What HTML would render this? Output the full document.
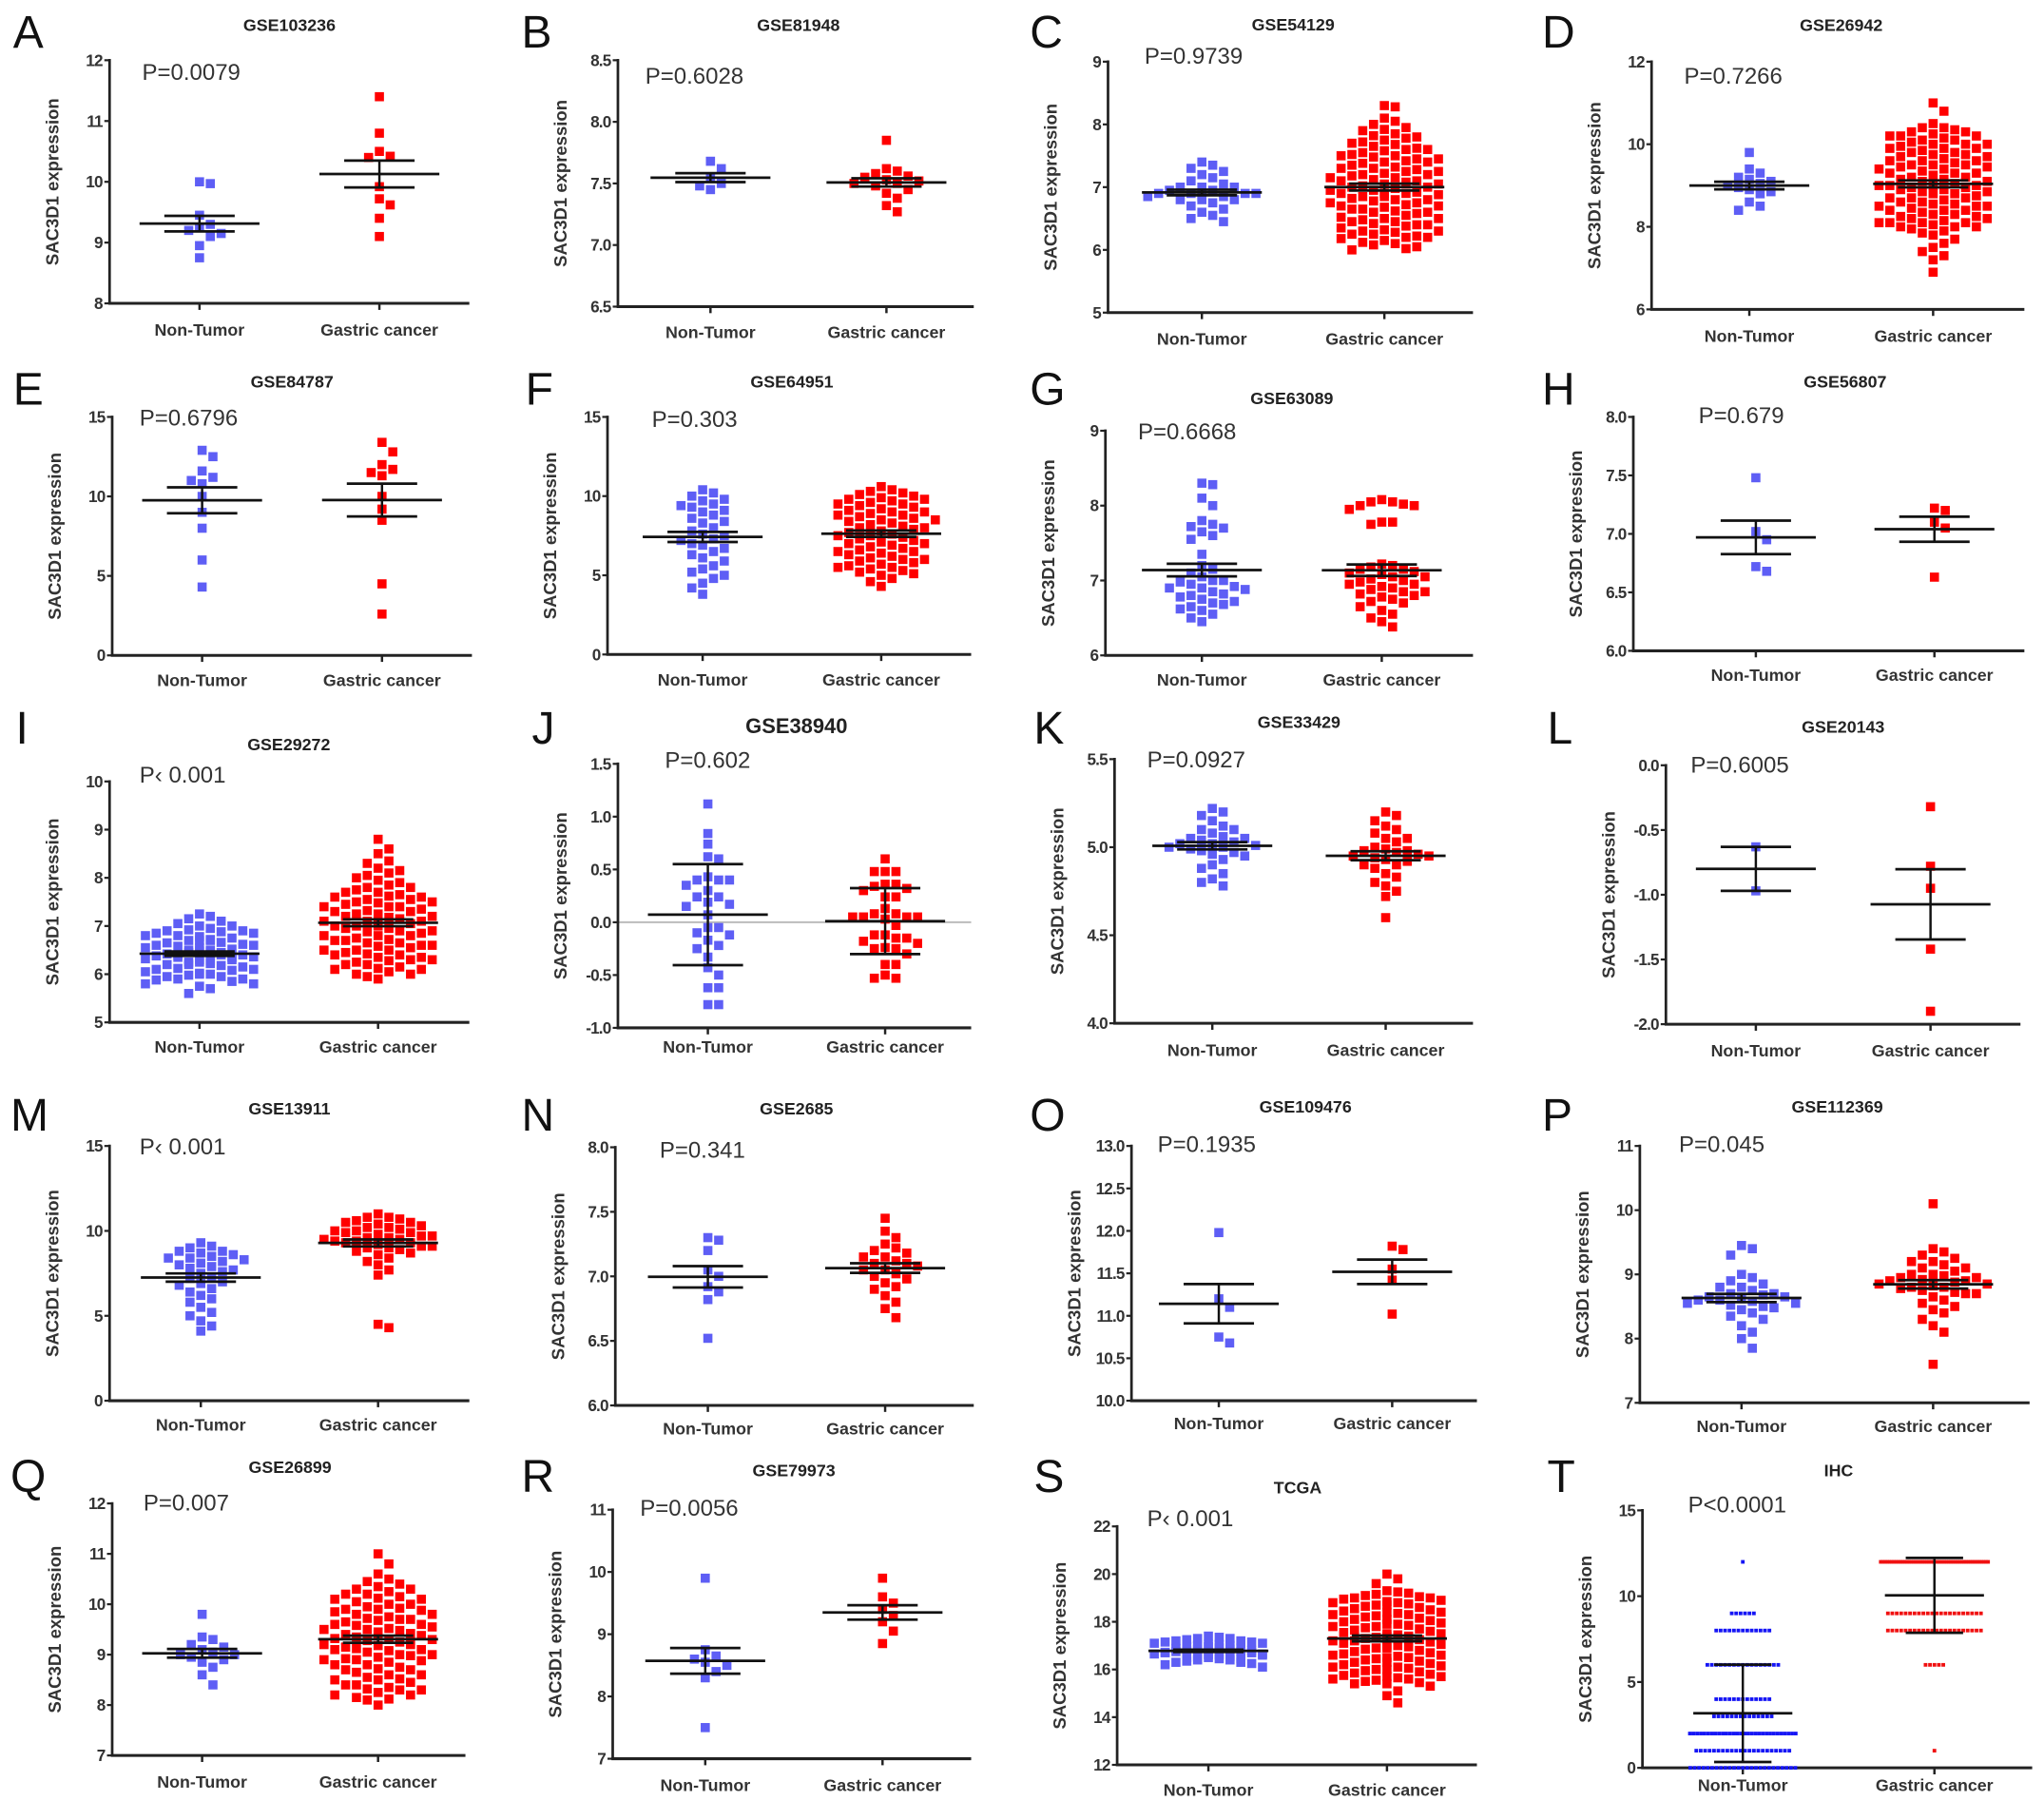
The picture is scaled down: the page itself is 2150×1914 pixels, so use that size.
<!DOCTYPE html>
<html><head><meta charset="utf-8">
<style>
html,body{margin:0;padding:0;background:#fff;}
svg{display:block;}
text{font-family:"Liberation Sans",Arial,sans-serif;}
</style></head>
<body>
<svg id="fig" width="2150" height="1914" viewBox="0 0 1568 1396" xmlns="http://www.w3.org/2000/svg">
<rect x="0" y="0" width="1568" height="1396" fill="#fff"/>
</svg>
<script>
// ---------------- DATA ----------------
const categories = ["Non-Tumor", "Gastric cancer"];
const panelIds = ["A","B","C","D","E","F","G","H","I","J","K","L","M","N","O","P","Q","R","S","T"];
const titles = ["GSE103236","GSE81948","GSE54129","GSE26942","GSE84787","GSE64951","GSE63089","GSE56807","GSE29272","GSE38940","GSE33429","GSE20143","GSE13911","GSE2685","GSE109476","GSE112369","GSE26899","GSE79973","TCGA","IHC"];
const pTexts = ["P=0.0079","P=0.6028","P=0.9739","P=0.7266","P=0.6796","P=0.303","P=0.6668","P=0.679","P\u2039 0.001","P=0.602","P=0.0927","P=0.6005","P\u2039 0.001","P=0.341","P=0.1935","P=0.045","P=0.007","P=0.0056","P\u2039 0.001","P<0.0001"];

const tickValues = {
 A:[8,9,10,11,12], B:[6.5,7.0,7.5,8.0,8.5], C:[5,6,7,8,9], D:[6,8,10,12],
 E:[0,5,10,15], F:[0,5,10,15], G:[6,7,8,9], H:[6.0,6.5,7.0,7.5,8.0],
 I:[5,6,7,8,9,10], J:[-1.0,-0.5,0.0,0.5,1.0,1.5], K:[4.0,4.5,5.0,5.5], L:[-2.0,-1.5,-1.0,-0.5,0.0],
 M:[0,5,10,15], N:[6.0,6.5,7.0,7.5,8.0], O:[10.0,10.5,11.0,11.5,12.0,12.5,13.0], P:[7,8,9,10,11],
 Q:[7,8,9,10,11,12], R:[7,8,9,10,11], S:[12,14,16,18,20,22], T:[0,5,10,15]
};
const tickLabels = {
 A:["8","9","10","11","12"], B:["6.5","7.0","7.5","8.0","8.5"], C:["5","6","7","8","9"], D:["6","8","10","12"],
 E:["0","5","10","15"], F:["0","5","10","15"], G:["6","7","8","9"], H:["6.0","6.5","7.0","7.5","8.0"],
 I:["5","6","7","8","9","10"], J:["-1.0","-0.5","0.0","0.5","1.0","1.5"], K:["4.0","4.5","5.0","5.5"], L:["-2.0","-1.5","-1.0","-0.5","0.0"],
 M:["0","5","10","15"], N:["6.0","6.5","7.0","7.5","8.0"], O:["10.0","10.5","11.0","11.5","12.0","12.5","13.0"], P:["7","8","9","10","11"],
 Q:["7","8","9","10","11","12"], R:["7","8","9","10","11"], S:["12","14","16","18","20","22"], T:["0","5","10","15"]
};

const A_nonTumor = [10.0,9.97,9.45,9.3,9.25,9.2,9.15,9.1,8.95,8.75];
const A_gastric = [11.4,10.8,10.5,10.42,10.4,9.92,9.72,9.62,9.4,9.1];
const B_nonTumor = [7.68,7.62,7.55,7.5,7.48,7.45];
const B_gastric = [7.85,7.62,7.6,7.58,7.56,7.55,7.53,7.52,7.5,7.5,7.48,7.45,7.42,7.38,7.32,7.27];
const C_nonTumor = [7.4,7.35,7.3,7.25,7.2,7.15,7.1,7.05,7.0,7.0,6.95,6.95,6.9,6.9,6.9,6.85,6.85,6.85,6.8,6.8,6.75,6.7,6.65,6.6,6.55,6.5,6.45,6.9,7.0,6.8];
const C_gastric = [8.3,8.28,8.1,8.05,8.0,7.95,7.92,7.9,7.85,7.82,7.8,7.78,7.75,7.72,7.7,7.68,7.65,7.62,7.6,7.58,7.55,7.52,7.5,7.48,7.45,7.42,7.4,7.38,7.35,7.32,7.3,7.28,7.25,7.22,7.2,7.18,7.15,7.12,7.1,7.08,7.05,7.02,7.0,6.98,6.95,6.92,6.9,6.9,6.88,6.85,6.82,6.8,6.78,6.75,6.72,6.7,6.68,6.65,6.62,6.6,6.58,6.55,6.52,6.5,6.48,6.45,6.42,6.4,6.38,6.35,6.32,6.3,6.28,6.25,6.22,6.2,6.18,6.15,6.12,6.1,6.08,6.05,6.02,6.0,7.6,7.4,7.2,7.0,6.8,6.6,6.4,6.2,7.5,7.3,7.1,6.9,6.7,6.5,6.3,7.45,7.25,7.05,6.85,6.65,6.45,6.25,7.15,6.95,6.75];
const D_nonTumor = [9.8,9.4,9.3,9.2,9.15,9.1,9.05,9.0,8.95,8.9,8.85,8.8,8.6,8.5,8.4];
const D_gastric = [11.0,10.8,10.5,10.4,10.4,10.35,10.3,10.3,10.25,10.2,10.2,10.15,10.1,10.1,10.05,10.0,10.0,9.95,9.9,9.9,9.85,9.8,9.8,9.75,9.7,9.7,9.65,9.6,9.6,9.55,9.5,9.5,9.45,9.4,9.4,9.35,9.3,9.3,9.25,9.2,9.2,9.15,9.1,9.1,9.05,9.0,9.0,8.95,8.95,8.9,8.9,8.85,8.8,8.8,8.75,8.7,8.7,8.65,8.6,8.6,8.55,8.5,8.5,8.45,8.4,8.4,8.35,8.3,8.3,8.25,8.2,8.2,8.15,8.1,8.1,8.05,8.0,8.0,7.95,7.9,7.85,7.8,7.7,7.6,7.5,7.4,7.3,7.2,6.9,9.9,9.6,9.3,9.0,8.7,8.4,8.1,10.2,9.75,9.45,9.15,8.85,8.55,8.25,8.0,10.0,9.5,9.0,8.5,8.1];
const E_nonTumor = [12.9,12.5,11.6,11.2,11.0,10.8,10.0,9.0,8.0,6.0,4.3];
const E_gastric = [13.4,12.8,12.0,11.7,11.5,11.3,10.0,9.2,8.5,4.5,2.6];
const F_nonTumor = [10.4,10.2,10.0,9.8,9.7,9.5,9.4,9.3,9.1,9.0,8.8,8.6,8.4,8.3,8.0,7.8,7.6,7.5,7.3,7.2,7.0,6.9,6.7,6.5,6.3,6.1,5.9,5.6,5.4,5.2,5.0,4.8,4.5,4.2,3.8];
const F_gastric = [10.6,10.4,10.3,10.2,10.1,10.0,9.9,9.8,9.7,9.6,9.5,9.4,9.3,9.2,9.1,9.0,8.9,8.8,8.7,8.6,8.5,8.4,8.3,8.2,8.1,8.0,7.9,7.8,7.7,7.6,7.5,7.4,7.3,7.2,7.1,7.0,6.9,6.8,6.7,6.6,6.5,6.4,6.3,6.2,6.1,6.0,5.9,5.8,5.7,5.6,5.5,5.4,5.3,5.2,5.1,5.0,4.8,4.6,4.3,9.5,9.0,8.5,8.0,7.5,7.0,6.5,6.0,5.5,9.8,8.8];
const G_nonTumor = [8.3,8.28,8.1,8.0,7.8,7.75,7.72,7.7,7.65,7.6,7.55,7.35,7.2,7.15,7.1,7.05,7.0,6.98,6.95,6.92,6.9,6.88,6.85,6.82,6.8,6.78,6.75,6.72,6.7,6.68,6.65,6.62,6.6,6.55,6.5,6.45,7.0,6.9];
const G_gastric = [8.08,8.05,8.05,8.02,8.0,8.0,7.95,7.78,7.75,7.78,7.22,7.2,7.18,7.15,7.12,7.1,7.08,7.05,7.02,7.0,6.98,6.95,6.92,6.9,6.88,6.85,6.82,6.8,6.78,6.75,6.72,6.7,6.65,6.6,6.55,6.5,6.45,6.38,7.15,7.05,6.95,6.85];
const H_nonTumor = [7.48,7.02,6.95,6.72,6.68];
const H_gastric = [7.22,7.2,7.1,7.05,6.63];
const I_nonTumor = [7.25,7.2,7.15,7.1,7.05,7.0,6.95,6.9,6.85,6.8,6.75,6.7,6.65,6.6,6.55,6.5,6.45,6.4,6.35,6.3,6.25,6.2,6.15,6.1,6.05,6.0,5.95,5.9,5.85,5.8,5.75,5.7,5.6,7.0,6.9,6.8,6.7,6.6,6.5,6.4,6.3,6.2,6.1,6.0,5.9,5.8,6.92,6.78,6.62,6.48,6.32,6.18,6.02,5.88,6.85,6.7,6.55,6.45,6.38,6.25,6.12,5.95,6.4,6.35,6.42,6.58,6.88,6.72,6.52,6.36,6.22,6.08,5.98,6.66,6.46,6.28];
const I_gastric = [8.8,8.6,8.5,8.35,8.3,8.2,8.15,8.1,8.05,8.0,7.95,7.9,7.85,7.8,7.75,7.7,7.65,7.6,7.55,7.5,7.45,7.4,7.35,7.3,7.25,7.2,7.15,7.1,7.05,7.0,6.95,6.9,6.85,6.8,6.75,6.7,6.65,6.6,6.55,6.5,6.45,6.4,6.35,6.3,6.25,6.2,6.15,6.1,6.05,6.0,5.95,5.9,7.8,7.7,7.6,7.5,7.4,7.3,7.2,7.1,7.0,6.9,6.8,6.7,6.6,6.5,6.4,6.3,6.2,6.1,6.0,7.62,7.48,7.32,7.18,7.02,6.88,6.72,6.58,6.42,6.28,6.12,7.4,7.25,7.1,6.95,6.8,6.65,6.5,6.35,7.55,7.0];
const J_nonTumor = [1.12,0.84,0.74,0.62,0.6,0.43,0.4,0.4,0.4,0.35,0.3,0.24,0.24,0.19,0.17,0.15,0.07,-0.05,-0.05,-0.1,-0.12,-0.17,-0.22,-0.25,-0.33,-0.43,-0.5,-0.62,-0.62,-0.78,-0.78];
const J_gastric = [0.6,0.48,0.48,0.48,0.36,0.36,0.34,0.32,0.3,0.24,0.24,0.13,0.08,0.08,0.05,0.05,0.05,0.05,0.03,-0.03,-0.12,-0.12,-0.15,-0.15,-0.18,-0.2,-0.24,-0.25,-0.25,-0.3,-0.4,-0.4,-0.5,-0.53,-0.53];
const K_nonTumor = [5.22,5.2,5.18,5.15,5.12,5.1,5.08,5.06,5.05,5.04,5.03,5.02,5.02,5.01,5.0,5.0,4.99,4.98,4.97,4.96,4.95,4.93,4.9,4.88,4.85,4.82,4.8,4.78,5.1,5.05];
const K_gastric = [5.2,5.18,5.15,5.12,5.1,5.08,5.05,5.03,5.0,4.99,4.98,4.97,4.96,4.95,4.94,4.93,4.92,4.9,4.88,4.85,4.83,4.8,4.78,4.75,4.72,4.6,5.05,4.95,4.9,4.98];
const L_nonTumor = [-0.63,-0.97];
const L_gastric = [-0.32,-0.78,-0.95,-1.42,-1.9];
const M_nonTumor = [9.3,9.1,9.0,8.8,8.7,8.6,8.5,8.4,8.3,8.2,8.1,8.0,7.9,7.7,7.6,7.5,7.3,7.2,7.0,6.8,6.6,6.4,6.2,6.0,5.8,5.5,5.2,5.0,4.7,4.4,4.1,8.8,8.4,7.8,6.9];
const M_gastric = [11.0,10.8,10.7,10.6,10.5,10.4,10.3,10.2,10.1,10.0,9.9,9.8,9.7,9.6,9.5,9.4,9.3,9.2,9.1,9.0,8.9,8.8,8.7,8.6,8.4,8.2,8.0,7.7,7.4,4.5,4.3,10.5,10.2,9.9,9.6,9.4,9.2,9.0,10.8,10.0,9.5,9.3,9.1,9.7];
const N_nonTumor = [7.3,7.28,7.2,7.05,7.0,6.92,6.88,6.82,6.52];
const N_gastric = [7.45,7.35,7.3,7.25,7.22,7.2,7.18,7.15,7.12,7.1,7.1,7.08,7.05,7.02,7.0,6.98,6.95,6.92,6.9,6.85,6.8,6.75,6.68,7.15,7.05];
const O_nonTumor = [11.98,11.2,11.1,10.75,10.68];
const O_gastric = [11.82,11.78,11.55,11.42,11.02];
const P_nonTumor = [9.45,9.4,9.3,9.0,8.95,8.9,8.85,8.8,8.75,8.7,8.68,8.65,8.62,8.6,8.58,8.55,8.52,8.5,8.48,8.45,8.4,8.35,8.3,8.2,8.1,8.0,7.85,8.7,8.6,8.8,8.65,8.55];
const P_gastric = [10.1,9.4,9.35,9.3,9.25,9.2,9.15,9.1,9.05,9.0,8.98,8.95,8.92,8.9,8.88,8.85,8.82,8.8,8.78,8.75,8.72,8.7,8.65,8.6,8.55,8.5,8.45,8.4,8.3,8.2,8.1,7.6,9.0,8.9,8.8,9.1,8.7,8.95,8.85,9.2];
const Q_nonTumor = [9.8,9.35,9.3,9.2,9.15,9.1,9.05,9.0,9.0,8.95,8.9,8.85,8.75,8.6,8.4];
const Q_gastric = [11.0,10.8,10.6,10.5,10.45,10.4,10.35,10.3,10.25,10.2,10.15,10.1,10.05,10.0,9.95,9.9,9.85,9.8,9.75,9.7,9.65,9.6,9.55,9.5,9.45,9.4,9.35,9.3,9.25,9.2,9.15,9.1,9.05,9.0,8.95,8.9,8.85,8.8,8.75,8.7,8.65,8.6,8.55,8.5,8.45,8.4,8.35,8.3,8.25,8.2,8.15,8.1,8.0,10.3,10.2,10.1,10.0,9.9,9.8,9.7,9.6,9.5,9.4,9.3,9.2,9.1,9.0,8.9,8.8,8.7,8.6,8.5,8.4,8.3,8.2,10.12,9.92,9.72,9.52,9.42,9.32,9.12,8.92,8.72,8.52,8.32,8.12,9.88,9.68,9.58,9.48,9.38,9.28,9.18,9.08,8.98,8.88];
const R_nonTumor = [9.9,8.75,8.65,8.6,8.55,8.5,8.4,8.3,7.5];
const R_gastric = [9.9,9.6,9.5,9.4,9.3,9.2,9.05,8.85];
const S_nonTumor = [17.4,17.35,17.3,17.25,17.2,17.15,17.1,17.05,17.0,16.95,16.9,16.85,16.8,16.75,16.7,16.65,16.6,16.55,16.5,16.45,16.4,16.35,16.3,16.25,16.2,16.1,17.3,17.2,17.1,17.0,16.9,16.8,16.7,16.6,16.5,16.4,16.3,17.15,16.95,16.85,16.75,16.65,16.55,16.45,17.05,16.88,16.72,16.62];
const S_gastric = [20.0,19.8,19.6,19.3,19.2,19.1,19.0,18.9,18.8,18.7,18.6,18.5,18.4,18.3,18.2,18.1,18.0,17.9,17.8,17.7,17.6,17.5,17.4,17.3,17.2,17.1,17.0,16.9,16.8,16.7,16.6,16.5,16.4,16.3,16.2,16.1,16.0,15.9,15.8,15.7,15.6,15.5,15.4,15.3,15.1,14.9,14.6,19.25,19.05,18.85,18.65,18.45,18.25,18.05,17.85,17.65,17.45,17.25,17.05,16.85,16.65,16.45,16.25,16.05,15.85,15.65,15.45,19.15,18.95,18.75,18.55,18.35,18.15,17.95,17.75,17.55,17.35,17.15,16.95,16.75,16.55,16.35,16.15,15.95,15.75,15.55,19.0,18.7,18.4,18.1,17.8,17.5,17.2,16.9,16.6,16.3,16.0,15.7,15.4,18.8,18.3,17.9,17.4,17.0,16.5,16.1,15.6];
// IHC scores are integers: levels and number of samples at each level
const T_levels_nonTumor = [12,9,8,6,4,3,2,1,0];
const T_counts_nonTumor = [1,6,13,17,13,14,30,22,25];
const T_levels_gastric = [12,9,8,6,1];
const T_counts_gastric = [50,22,22,5,1];

const seriesNonTumor = {A:A_nonTumor,B:B_nonTumor,C:C_nonTumor,D:D_nonTumor,E:E_nonTumor,F:F_nonTumor,G:G_nonTumor,H:H_nonTumor,I:I_nonTumor,J:J_nonTumor,K:K_nonTumor,L:L_nonTumor,M:M_nonTumor,N:N_nonTumor,O:O_nonTumor,P:P_nonTumor,Q:Q_nonTumor,R:R_nonTumor,S:S_nonTumor};
const seriesGastric = {A:A_gastric,B:B_gastric,C:C_gastric,D:D_gastric,E:E_gastric,F:F_gastric,G:G_gastric,H:H_gastric,I:I_gastric,J:J_gastric,K:K_gastric,L:L_gastric,M:M_gastric,N:N_gastric,O:O_gastric,P:P_gastric,Q:Q_gastric,R:R_gastric,S:S_gastric};

// ---------------- LAYOUT (display units) ----------------
const layout = {
 A:[10,24,84,360,153,291,46.2,232.7,19.5,109,55.8,253],
 B:[400,24,474,747,545,680,46.2,235.2,19.5,495,58.6,255],
 C:[790,24,850,1130,922,1062,47.3,239.8,19,878,43.3,260],
 D:[1183,24,1267,1553,1342,1483,47.3,237.3,19.5,1292,58.6,258],
 E:[10,298,86,362,155,293,319.8,502.7,293,107,321,522],
 F:[403,298,466,745,539,676,319.8,502,293,500,322,521.6],
 G:[790,298,848,1130,922,1060,330.4,502.7,305.6,873,331.5,521.6],
 H:[1183,298,1253,1553,1347,1484,319.8,499.2,293,1303,319,518],
 I:[12,558,84,360,153,290,599.4,784.2,571,107,594.8,803],
 J:[408,558,474,745,543,679,585.9,788.4,557,510,583.6,803],
 K:[793,558,855,1130,930,1063,582.3,784.9,554,880,583,805.5],
 L:[1187,558,1278,1550,1347,1481,587,785.6,557.5,1297,587,806],
 M:[8,855,84,360,154,290,879,1074.4,850.6,107,880,1093],
 N:[400,855,472,747,543,679,880,1078,850.6,506,882.6,1096],
 O:[790,855,868,1133,935,1068,879,1074.4,848.8,888,878,1092],
 P:[1183,855,1258,1557,1336,1483,879,1076,848.8,1288,878,1094],
 Q:[8,1132,86,357,155,290,1153.2,1346.5,1125.4,110,1153,1367],
 R:[400,1132,470,745,541,677,1158,1349,1127.8,491,1157.3,1369.4],
 S:[793,1132,857,1133,927,1064,1170.8,1353.7,1141,880,1165.3,1373],
 T:[1187,1132,1260,1559,1337,1484,1158.5,1356,1127.8,1295,1154.4,1369.4]
};
const useSD = {J:true, T:true};

const NS = "http://www.w3.org/2000/svg";
const svg = document.getElementById("fig");
function mk(parent, tag, attrs, name) {
  const el = document.createElementNS(NS, tag);
  for (const k in attrs) el.setAttribute(k, attrs[k]);
  
  
  parent.appendChild(el);
  return el;
}
function txt(parent, x, y, s, size, weight, anchor, fill, name, extra) {
  const a = {x:x, y:y, "font-size":size, "font-weight":weight, "text-anchor":anchor, "dominant-baseline":"central", fill:fill};
  if (extra) for (const k in extra) a[k] = extra[k];
  const t = mk(parent, "text", a, name);
  t.textContent = s;
  return t;
}
function stats(vals, sd) {
  const n = vals.length;
  const m = vals.reduce((a,b)=>a+b,0)/n;
  const v = vals.reduce((a,b)=>a+(b-m)*(b-m),0)/Math.max(1,n-1);
  const s = Math.sqrt(v);
  return {mean:m, err: sd ? s : s/Math.sqrt(n)};
}
function swarm(vals, cx, yf, s, maxHalf) {
  const pts = vals.map(v => ({v:v, y:yf(v)}));
  pts.sort((a,b)=>a.y-b.y);
  const placed = [];
  const d = s + 1.3;
  const kmax = 2 * Math.floor(maxHalf / d);
  for (const p of pts) {
    let best = null, bestHits = 1e9;
    for (let k = 0; k <= kmax; k++) {
      const off = k === 0 ? 0 : (k % 2 ? 1 : -1) * Math.ceil(k/2) * d;
      const x = cx + off;
      let hits = 0;
      for (const q of placed) {
        if (Math.abs(q.y - p.y) < s + 0.8 && Math.abs(q.x - x) < s + 0.8) hits++;
      }
      if (hits === 0) { best = x; bestHits = 0; break; }
      if (hits < bestHits) { bestHits = hits; best = x; }
    }
    placed.push({x:best, y:p.y, v:p.v});
  }
  return placed;
}

panelIds.forEach((id, i) => {
  const L = layout[id];
  const [lx, lcy, ax, ar, c1, c2, yTop, yBot, tcy, px, pcy, labcy] = L;
  const tv = tickValues[id], tl = tickLabels[id];
  const vmin = tv[0], vmax = tv[tv.length-1];
  const yf = v => yBot - (v - vmin) / (vmax - vmin) * (yBot - yTop);
  const g = mk(svg, "g", {}, "panel-" + id.toLowerCase());

  txt(g, lx, lcy + 1, id, 35, "normal", "start", "#111", "panel-letter");
  txt(g, (c1 + c2) / 2, tcy, titles[i], id === "J" ? 16 : 13, "bold", "middle", "#222", "panel-title");
  txt(g, px, pcy, pTexts[i], 17.5, "normal", "start", "#333", "p-value-label");

  if (id === "J") mk(g, "line", {x1:ax, x2:ar, y1:yf(0), y2:yf(0), stroke:"#bbb", "stroke-width":1.5}, "zero-line");

  const axG = mk(g, "g", {}, "y-axis");
  mk(axG, "line", {x1:ax, x2:ax, y1:yTop - 1, y2:yBot, stroke:"#222", "stroke-width":2}, "y-axis-line");
  tv.forEach((v, k) => {
    mk(axG, "line", {x1:ax - 4, x2:ax, y1:yf(v), y2:yf(v), stroke:"#222", "stroke-width":1.6}, "y-tick");
    txt(axG, ax - 5.5, yf(v), tl[k], 12.5, "bold", "end", "#333", "y-tick-label", {"letter-spacing":"-0.6"});
  });
  const yt = txt(g, ax - 44, (yTop + yBot) / 2, "SAC3D1 expression", 13.5, "bold", "middle", "#333", "y-axis-title");
  yt.setAttribute("transform", "rotate(-90 " + (ax - 44) + " " + ((yTop + yBot) / 2) + ")");
  const xG = mk(g, "g", {}, "x-axis");
  mk(xG, "line", {x1:ax - 1, x2:ar, y1:yBot, y2:yBot, stroke:"#222", "stroke-width":2.2}, "x-axis-line");
  [c1, c2].forEach((cx, k) => {
    mk(xG, "line", {x1:cx, x2:cx, y1:yBot, y2:yBot + 5, stroke:"#222", "stroke-width":1.8}, "x-tick");
    txt(xG, cx, labcy, categories[k], 13, "bold", "middle", "#333", "x-category-label");
  });

  const colors = id === "T" ? ["#1515f5", "#f01010"] : ["#5e5ef5", "#ff0000"];
  const groups = [];
  if (id === "T") {
    [[T_levels_nonTumor, T_counts_nonTumor], [T_levels_gastric, T_counts_gastric]].forEach((lc, k) => {
      const cx = k === 0 ? c1 : c2;
      const vals = [];
      const pg = mk(g, "g", {}, k === 0 ? "non-tumor-points" : "gastric-cancer-points");
      lc[0].forEach((lev, j) => {
        const n = lc[1][j];
        const sp = Math.min(3.4, 84 / n);
        for (let q = 0; q < n; q++) {
          vals.push(lev);
          const x = cx + (q - (n - 1) / 2) * sp;
          mk(pg, "rect", {x:x - 1.4, y:yf(lev) - 1.4, width:2.8, height:2.8, fill:colors[k]}, "data-point");
        }
      });
      groups.push({cx:cx, vals:vals});
    });
  } else {
    [seriesNonTumor[id], seriesGastric[id]].forEach((vals, k) => {
      const cx = k === 0 ? c1 : c2;
      const pg = mk(g, "g", {}, k === 0 ? "non-tumor-points" : "gastric-cancer-points");
      const s = 7;
      swarm(vals, cx, yf, s, 44).forEach(p => {
        mk(pg, "rect", {x:p.x - s/2, y:p.y - s/2, width:s, height:s, fill:colors[k]}, "data-point");
      });
      groups.push({cx:cx, vals:vals});
    });
  }
  groups.forEach((gr, k) => {
    const st = stats(gr.vals, !!useSD[id]);
    const eg = mk(g, "g", {}, k === 0 ? "non-tumor-mean-error" : "gastric-cancer-mean-error");
    const ym = yf(st.mean), yu = yf(st.mean + st.err), yl = yf(st.mean - st.err);
    const hw = id === "T" ? 38 : 46, sw = id === "T" ? 22 : 27;
    mk(eg, "line", {x1:gr.cx - hw, x2:gr.cx + hw, y1:ym, y2:ym, stroke:"#111", "stroke-width":2}, "mean-line");
    mk(eg, "line", {x1:gr.cx - sw, x2:gr.cx + sw, y1:yu, y2:yu, stroke:"#111", "stroke-width":2}, "error-cap-upper");
    mk(eg, "line", {x1:gr.cx - sw, x2:gr.cx + sw, y1:yl, y2:yl, stroke:"#111", "stroke-width":2}, "error-cap-lower");
    mk(eg, "line", {x1:gr.cx, x2:gr.cx, y1:yu, y2:yl, stroke:"#111", "stroke-width":1.8}, "error-bar");
  });
});
</script>
</body></html>
